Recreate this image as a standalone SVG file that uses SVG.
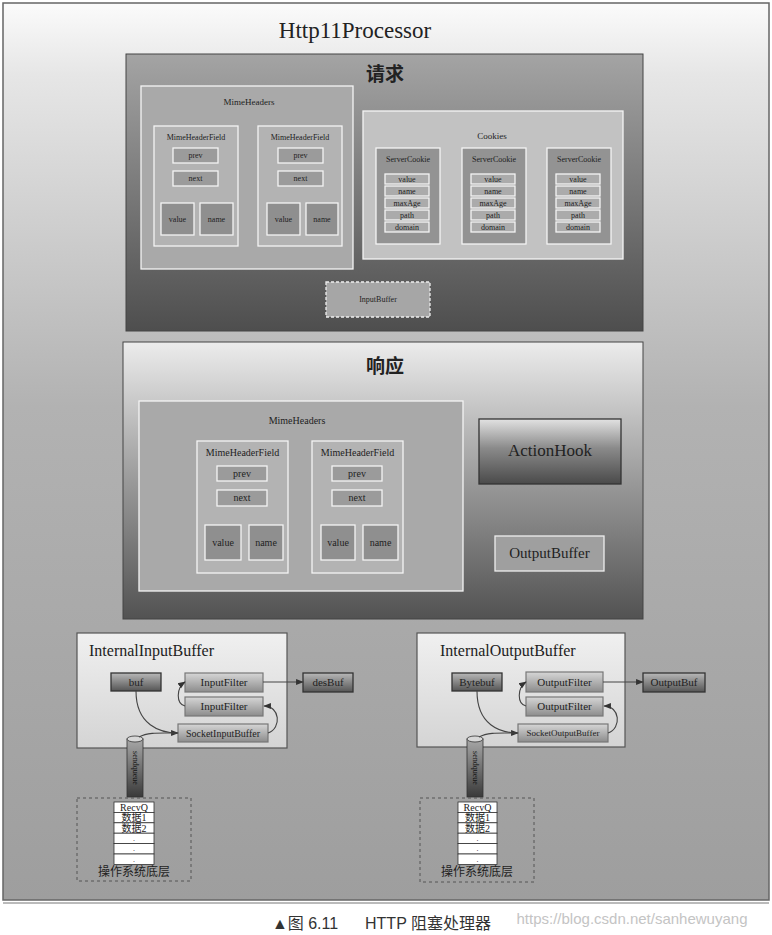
<svg xmlns="http://www.w3.org/2000/svg" width="772" height="935" viewBox="0 0 772 935">
<defs>
<linearGradient id="gOuter" x1="0" y1="0" x2="0" y2="1"><stop offset="0" stop-color="#fbfbfb"/><stop offset="0.08" stop-color="#e6e6e6"/><stop offset="0.45" stop-color="#b2b2b2"/><stop offset="1" stop-color="#9e9e9e"/></linearGradient>
<linearGradient id="gReq" x1="0" y1="0" x2="0" y2="1"><stop offset="0" stop-color="#a4a4a4"/><stop offset="1" stop-color="#4e4e4e"/></linearGradient>
<linearGradient id="gResp" x1="0" y1="0" x2="0" y2="1"><stop offset="0" stop-color="#ececec"/><stop offset="0.5" stop-color="#9a9a9a"/><stop offset="1" stop-color="#525252"/></linearGradient>
<linearGradient id="gHook" x1="0" y1="0" x2="0" y2="1"><stop offset="0" stop-color="#e2e2e2"/><stop offset="0.45" stop-color="#8a8a8a"/><stop offset="1" stop-color="#4a4a4a"/></linearGradient>
<linearGradient id="gDark" x1="0" y1="0" x2="0" y2="1"><stop offset="0" stop-color="#b8b8b8"/><stop offset="1" stop-color="#555"/></linearGradient>
<linearGradient id="gMid" x1="0" y1="0" x2="0" y2="1"><stop offset="0" stop-color="#d6d6d6"/><stop offset="1" stop-color="#8c8c8c"/></linearGradient>
<linearGradient id="gCyl" x1="0" y1="0" x2="0" y2="1"><stop offset="0" stop-color="#a8a8a8"/><stop offset="1" stop-color="#3a3a3a"/></linearGradient>
<linearGradient id="gBuf" x1="0" y1="0" x2="0" y2="1"><stop offset="0" stop-color="#f0f0f0"/><stop offset="1" stop-color="#d4d4d4"/></linearGradient>
<marker id="arr" viewBox="0 0 10 10" refX="9" refY="5" markerWidth="7" markerHeight="7" orient="auto"><path d="M0,1 L10,5 L0,9 z" fill="#333"/></marker>
</defs>
<style>
text{font-family:"Liberation Serif","Noto Sans CJK SC",serif;fill:#222;text-anchor:middle;dominant-baseline:central}
.wb{stroke:#f4f4f4;stroke-width:1.3}
.mh{fill:#a9a9a9}
.mhf{fill:#b3b3b3}
.pn{fill:#9b9b9b}
.vn{fill:#8f8f8f}
.ck{fill:#c2c2c2}
.sc{fill:#939393}
.cf{fill:#ababab}
.dk{fill:url(#gDark);stroke:#333;stroke-width:1.3}
.md{fill:url(#gMid);stroke:#777;stroke-width:1.2}
.ibox{fill:url(#gBuf);stroke:#555;stroke-width:1.2}
.dash{fill:none;stroke:#555;stroke-width:1;stroke-dasharray:3 3}
.conn{fill:none;stroke:#444;stroke-width:1.1}
.s8{font-size:8px}
.s9{font-size:9px}
.s10{font-size:10px}
.s11{font-size:11px}
.cell{fill:#fff;stroke:#333;stroke-width:0.8}
.cap{font-family:"Liberation Sans","Noto Sans CJK SC",sans-serif;font-size:16px;fill:#333}
</style>

<g id="http11processor">
<rect x="3" y="3" width="766" height="897" fill="url(#gOuter)" stroke="#666" stroke-width="1.5"/>
<line x1="3" y1="903" x2="769" y2="903" stroke="#777" stroke-width="1"/>
<text x="355" y="30" style="font-size:23px">Http11Processor</text>
</g>

<g id="request">
<rect x="126" y="54" width="517" height="277" fill="url(#gReq)" stroke="#444" stroke-width="1"/>
<text x="385" y="74" style="font-size:19px;font-weight:bold">请求</text>
</g>

<g id="req-mimeheaders">
<rect class="mh wb" x="141" y="86" width="212" height="183"/>
<text class="s9" x="249" y="102">MimeHeaders</text>
</g>
<g id="req-mhf1">
<rect class="mhf wb" x="154" y="126" width="84" height="120"/>
<text class="s8" x="196" y="137">MimeHeaderField</text>
<rect class="pn wb" x="173" y="148" width="45" height="15"/><text class="s8" x="195.5" y="155">prev</text>
<rect class="pn wb" x="173" y="171" width="45" height="15"/><text class="s8" x="195.5" y="178">next</text>
<rect class="vn wb" x="161" y="203" width="33" height="32"/><text class="s8" x="177.5" y="219">value</text>
<rect class="vn wb" x="200" y="203" width="33" height="32"/><text class="s8" x="216.5" y="219">name</text>
</g>
<g id="req-mhf2">
<rect class="mhf wb" x="258" y="126" width="84" height="120"/>
<text class="s8" x="300" y="137">MimeHeaderField</text>
<rect class="pn wb" x="278" y="148" width="45" height="15"/><text class="s8" x="300.5" y="155">prev</text>
<rect class="pn wb" x="278" y="171" width="45" height="15"/><text class="s8" x="300.5" y="178">next</text>
<rect class="vn wb" x="267" y="203" width="33" height="32"/><text class="s8" x="283.5" y="219">value</text>
<rect class="vn wb" x="306" y="203" width="32" height="32"/><text class="s8" x="322" y="219">name</text>
</g>

<g id="req-cookies">
<rect class="ck wb" x="363" y="111" width="260" height="148"/>
<text class="s9" x="492" y="136">Cookies</text>
</g>
<g id="servercookie1">
<rect class="sc wb" x="376" y="148" width="64" height="96"/>
<text class="s8" x="408" y="159">ServerCookie</text>
<rect class="cf wb" x="385" y="174" width="44" height="10"/><text class="s8" x="407" y="179">value</text>
<rect class="cf wb" x="385" y="186" width="44" height="10"/><text class="s8" x="407" y="191">name</text>
<rect class="cf wb" x="385" y="198" width="44" height="10"/><text class="s8" x="407" y="203">maxAge</text>
<rect class="cf wb" x="385" y="210" width="44" height="10"/><text class="s8" x="407" y="215">path</text>
<rect class="cf wb" x="385" y="222" width="44" height="10"/><text class="s8" x="407" y="227">domain</text>
</g>
<g id="servercookie2">
<rect class="sc wb" x="462" y="148" width="64" height="96"/>
<text class="s8" x="494" y="159">ServerCookie</text>
<rect class="cf wb" x="471" y="174" width="44" height="10"/><text class="s8" x="493" y="179">value</text>
<rect class="cf wb" x="471" y="186" width="44" height="10"/><text class="s8" x="493" y="191">name</text>
<rect class="cf wb" x="471" y="198" width="44" height="10"/><text class="s8" x="493" y="203">maxAge</text>
<rect class="cf wb" x="471" y="210" width="44" height="10"/><text class="s8" x="493" y="215">path</text>
<rect class="cf wb" x="471" y="222" width="44" height="10"/><text class="s8" x="493" y="227">domain</text>
</g>
<g id="servercookie3">
<rect class="sc wb" x="547" y="148" width="64" height="96"/>
<text class="s8" x="579" y="159">ServerCookie</text>
<rect class="cf wb" x="556" y="174" width="44" height="10"/><text class="s8" x="578" y="179">value</text>
<rect class="cf wb" x="556" y="186" width="44" height="10"/><text class="s8" x="578" y="191">name</text>
<rect class="cf wb" x="556" y="198" width="44" height="10"/><text class="s8" x="578" y="203">maxAge</text>
<rect class="cf wb" x="556" y="210" width="44" height="10"/><text class="s8" x="578" y="215">path</text>
<rect class="cf wb" x="556" y="222" width="44" height="10"/><text class="s8" x="578" y="227">domain</text>
</g>
<g id="inputbuffer">
<rect x="326" y="282" width="104" height="35" fill="#a6a6a6" stroke="#eee" stroke-width="1.3" stroke-dasharray="3 2"/>
<text class="s8" x="378" y="299">InputBuffer</text>
</g>

<g id="response">
<rect x="123" y="342" width="520" height="277" fill="url(#gResp)" stroke="#444" stroke-width="1"/>
<text x="385" y="366" style="font-size:19px;font-weight:bold">响应</text>
</g>
<g id="resp-mimeheaders">
<rect class="mh wb" x="139" y="401" width="324" height="190"/>
<text class="s10" x="297" y="420">MimeHeaders</text>
</g>
<g id="resp-mhf1">
<rect class="mhf wb" x="197" y="441" width="91" height="132"/>
<text class="s10" x="242.5" y="452">MimeHeaderField</text>
<rect class="pn wb" x="217" y="466" width="50" height="15"/><text class="s10" x="242" y="473">prev</text>
<rect class="pn wb" x="217" y="490" width="50" height="16"/><text class="s10" x="242" y="497">next</text>
<rect class="vn wb" x="205" y="525" width="36" height="35"/><text class="s10" x="223" y="542">value</text>
<rect class="vn wb" x="249" y="525" width="34" height="35"/><text class="s10" x="266" y="542">name</text>
</g>
<g id="resp-mhf2">
<rect class="mhf wb" x="312" y="441" width="91" height="132"/>
<text class="s10" x="357.5" y="452">MimeHeaderField</text>
<rect class="pn wb" x="332" y="466" width="50" height="15"/><text class="s10" x="357" y="473">prev</text>
<rect class="pn wb" x="332" y="490" width="50" height="16"/><text class="s10" x="357" y="497">next</text>
<rect class="vn wb" x="321" y="525" width="34" height="35"/><text class="s10" x="338" y="542">value</text>
<rect class="vn wb" x="363" y="525" width="35" height="35"/><text class="s10" x="380.5" y="542">name</text>
</g>
<g id="actionhook">
<rect x="479" y="419" width="142" height="65" fill="url(#gHook)" stroke="#333" stroke-width="1.3"/>
<text x="550" y="450" style="font-size:17px">ActionHook</text>
</g>
<g id="outputbuffer">
<rect x="495" y="536" width="109" height="35" fill="#9f9f9f" stroke="#eee" stroke-width="1.3"/>
<text x="549.5" y="553" style="font-size:15px">OutputBuffer</text>
</g>

<g id="internalinputbuffer">
<rect class="ibox" x="77" y="633" width="210" height="115"/>
<text x="89" y="650" style="font-size:16px;text-anchor:start">InternalInputBuffer</text>
</g>
<g id="buf"><rect class="dk" x="111" y="673" width="50" height="18"/><text class="s11" x="136" y="682">buf</text></g>
<g id="inputfilter1"><rect class="md" x="185" y="673" width="78" height="19"/><text class="s11" x="224" y="682">InputFilter</text></g>
<g id="inputfilter2"><rect class="md" x="185" y="697" width="78" height="19"/><text class="s11" x="224" y="706">InputFilter</text></g>
<g id="socketinputbuffer"><rect class="md" x="178" y="724" width="90" height="18"/><text class="s10" x="223" y="733">SocketInputBuffer</text></g>
<g id="desbuf"><rect class="dk" x="303" y="673" width="50" height="19"/><text class="s11" x="328" y="682">desBuf</text></g>
<g id="cyl-in">
<rect x="127" y="739" width="16" height="58" fill="url(#gCyl)" stroke="#333" stroke-width="0.8"/>
<ellipse cx="135" cy="739" rx="8" ry="3" fill="#d8d8d8" stroke="#333" stroke-width="0.8"/>
<text class="s8" x="135" y="768" transform="rotate(90 135 768)" style="fill:#111">sendqueue</text>
</g>
<g id="os-in">
<rect class="dash" x="77" y="798" width="114" height="83"/>
<rect class="cell" x="114" y="802" width="40" height="10.4"/><text class="s10" x="134" y="807">RecvQ</text>
<rect class="cell" x="114" y="812.4" width="40" height="10.4"/><text class="s10" x="134" y="817.6">数据1</text>
<rect class="cell" x="114" y="822.8" width="40" height="10.4"/><text class="s10" x="134" y="828">数据2</text>
<rect class="cell" x="114" y="833.2" width="40" height="10.4"/><text class="s8" x="134" y="838.4">.</text>
<rect class="cell" x="114" y="843.6" width="40" height="10.4"/><text class="s8" x="134" y="848.8">.</text>
<rect class="cell" x="114" y="854" width="40" height="10.4"/><text class="s8" x="134" y="859.2">.</text>
<text x="134" y="872" style="font-size:12px">操作系统底层</text>
</g>

<g id="internaloutputbuffer">
<rect class="ibox" x="417" y="633" width="208" height="114"/>
<text x="440" y="650" style="font-size:16px;text-anchor:start">InternalOutputBuffer</text>
</g>
<g id="bytebuf"><rect class="dk" x="452" y="673" width="50" height="18"/><text class="s11" x="477" y="682">Bytebuf</text></g>
<g id="outputfilter1"><rect class="md" x="526" y="672" width="77" height="20"/><text class="s11" x="564.5" y="682">OutputFilter</text></g>
<g id="outputfilter2"><rect class="md" x="526" y="697" width="77" height="19"/><text class="s11" x="564.5" y="706">OutputFilter</text></g>
<g id="socketoutputbuffer"><rect class="md" x="518" y="724" width="90" height="18"/><text class="s9" x="563" y="733">SocketOutputBuffer</text></g>
<g id="outputbuf"><rect class="dk" x="643" y="673" width="62" height="19"/><text class="s11" x="674" y="682">OutputBuf</text></g>
<g id="cyl-out">
<rect x="467" y="739" width="16" height="58" fill="url(#gCyl)" stroke="#333" stroke-width="0.8"/>
<ellipse cx="475" cy="739" rx="8" ry="3" fill="#d8d8d8" stroke="#333" stroke-width="0.8"/>
<text class="s8" x="475" y="768" transform="rotate(90 475 768)" style="fill:#111">sendqueue</text>
</g>
<g id="os-out">
<rect class="dash" x="420" y="798" width="114" height="84"/>
<rect class="cell" x="458" y="802" width="39" height="10.4"/><text class="s10" x="477.5" y="807">RecvQ</text>
<rect class="cell" x="458" y="812.4" width="39" height="10.4"/><text class="s10" x="477.5" y="817.6">数据1</text>
<rect class="cell" x="458" y="822.8" width="39" height="10.4"/><text class="s10" x="477.5" y="828">数据2</text>
<rect class="cell" x="458" y="833.2" width="39" height="10.4"/><text class="s8" x="477.5" y="838.4">.</text>
<rect class="cell" x="458" y="843.6" width="39" height="10.4"/><text class="s8" x="477.5" y="848.8">.</text>
<rect class="cell" x="458" y="854" width="39" height="10.4"/><text class="s8" x="477.5" y="859.2">.</text>
<text x="477" y="872" style="font-size:12px">操作系统底层</text>
</g>

<g id="connectors">
<path class="conn" d="M136,691 C136,725 160,733 178,733" marker-end="url(#arr)"/>
<path class="conn" d="M139,737 C148,732 160,733 176,733"/>
<path class="conn" d="M268,733 C282,728 280,706 264,706" marker-end="url(#arr)"/>
<path class="conn" d="M185,706 C176,704 176,688 185,682" marker-end="url(#arr)"/>
<path class="conn" d="M263,682 L303,682" marker-end="url(#arr)"/>
<path class="conn" d="M477,691 C477,725 500,733 518,733" marker-end="url(#arr)"/>
<path class="conn" d="M479,737 C488,732 500,733 516,733"/>
<path class="conn" d="M608,733 C622,728 620,706 604,706" marker-end="url(#arr)"/>
<path class="conn" d="M526,706 C517,704 517,688 526,682" marker-end="url(#arr)"/>
<path class="conn" d="M603,682 L643,682" marker-end="url(#arr)"/>
</g>

<g id="caption">
<text class="cap" x="305" y="923">▲图 6.11</text>
<text class="cap" x="428" y="923">HTTP 阻塞处理器</text>
<text x="632" y="918" style="font-family:'Liberation Sans',sans-serif;font-size:15px;fill:#c4c4c4">https://blog.csdn.net/sanhewuyang</text>
</g>
</svg>
